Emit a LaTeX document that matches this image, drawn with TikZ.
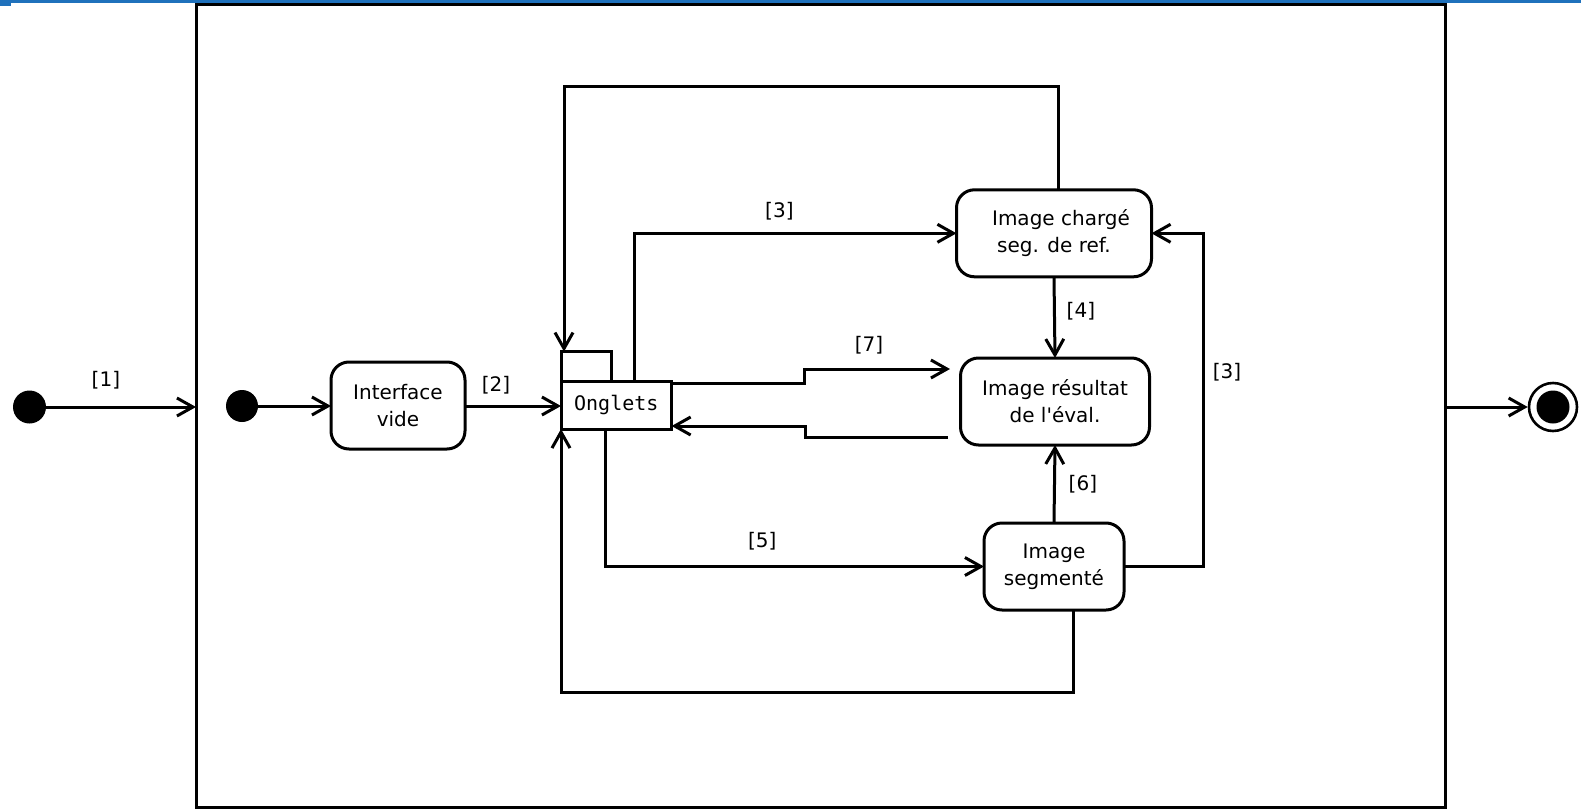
\documentclass[tikz,border=0pt]{standalone}
\usepackage{fontspec}
\setmainfont{DejaVu Sans}
\setmonofont{DejaVu Sans Mono}
\usetikzlibrary{arrows.meta}
\definecolor{barblue}{RGB}{31,113,188}
\tikzset{
  state/.style={draw, line width=1.5pt, rounded corners=9pt, align=center,
    font=\fontsize{10pt}{13.5pt}\selectfont, inner sep=0pt, outer sep=0pt},
  lbl/.style={font=\fontsize{10pt}{12pt}\selectfont, inner sep=0pt},
  arr/.style={line width=1.5pt, -{Straight Barb[length=8pt,width=9pt,line width=1.5pt]}},
  dot/.style={circle, fill=black, inner sep=0pt},
}
\begin{document}
\begin{tikzpicture}[x=0.5pt, y=-0.5pt]
\useasboundingbox (0,0) rectangle (1581,809);

% top bar
\fill[barblue] (0,0) rectangle (1581,3);
\fill[barblue] (0,0) rectangle (11,6);

% composite state frame
\node[draw, line width=1.5pt, fill=white, minimum width=624.5pt, minimum height=401.5pt,
  inner sep=0pt, outer sep=0pt] (frame) at (820.5,405.5) {};

% outer initial and final states
\node[dot, minimum size=16.5pt] (init) at (29.5,407) {};
\node[circle, draw, line width=1.3pt, minimum size=24pt, inner sep=0pt] (final) at (1553,407) {};
\node[dot, minimum size=16.5pt] (finalin) at (1553,407) {};

% inner initial state
\node[dot, minimum size=16pt] (init2) at (242,406) {};

% states
\node[state, minimum width=67pt, minimum height=43.5pt] (ifv) at (398,405.5) {Interface\\vide};
\node[state, minimum width=97.5pt, minimum height=43.5pt] (ichg) at (1054,233.3) {\hspace*{7pt}Image chargé\\seg. de ref.};
\node[state, minimum width=94.5pt, minimum height=43.5pt] (ires) at (1055,401.5) {Image résultat\\de l\textquotesingle éval.};
\node[state, minimum width=70pt, minimum height=43.5pt] (iseg) at (1054,566.5) {Image\\segmenté};

% Onglets package-like box
\node[draw, line width=1.5pt, minimum width=55.3pt, minimum height=23.7pt, inner sep=0pt,
  outer sep=0pt, font=\ttfamily\fontsize{10pt}{12pt}\selectfont] (ong) at (616.3,405.3) {Onglets};
\node[draw, line width=1.5pt, minimum width=25pt, minimum height=15pt, inner sep=0pt,
  outer sep=0pt, anchor=south west] (tab) at (ong.north west) {};

% routing points
\coordinate (topL) at (564,86);
\coordinate (rc) at (1203,400);
\coordinate (bl) at (561,692);
\coordinate (s7) at (804,369);
\coordinate (r7in) at (950,369);
\coordinate (r7out) at (948,437);
\coordinate (s7b) at (805.7,426);

% transitions
\draw[arr] (init) -- (init -| frame.west);
\draw[arr] (init2) -- (init2 -| ifv.west);
\draw[arr] (ifv.east |- init2) -- (init2 -| ong.west);
\draw[arr] ([xshift=2pt]ichg.north) |- (topL) -- (topL |- tab.north);
\draw[arr] ([xshift=8.85pt]ong.north) |- (ichg.west);
\draw[arr] (ichg.south) -- (ires.north);
\draw[arr] (iseg.north) -- (ires.south);
\draw[arr] ([xshift=-5.65pt]ong.south) |- (iseg.west);
\draw[arr] (iseg.east) -| (rc) |- (ichg.east);
\draw[arr] ([xshift=9.5pt]iseg.south) |- (bl) -- (ong.south west);
\draw[arr] ([yshift=-0.8pt]ong.north east) -| (s7) -- (r7in);
\draw[arr] (r7out) -| (s7b) -- (s7b -| ong.east);
\draw[arr] (final -| frame.east) -- (final.west);

% guards
\node[lbl] (g1) at (105.9,380.1) {[1]};
\node[lbl] (g2) at (496.1,385.2) {[2]};
\node[lbl] (g3a) at (779.4,211.7) {[3]};
\node[lbl] (g7) at (869.1,344.8) {[7]};
\node[lbl] (g4) at (1080.9,311.6) {[4]};
\node[lbl] (g3b) at (1227.1,372.1) {[3]};
\node[lbl] (g6) at (1082.9,484) {[6]};
\node[lbl] (g5) at (762.3,541.5) {[5]};
\end{tikzpicture}
\end{document}
